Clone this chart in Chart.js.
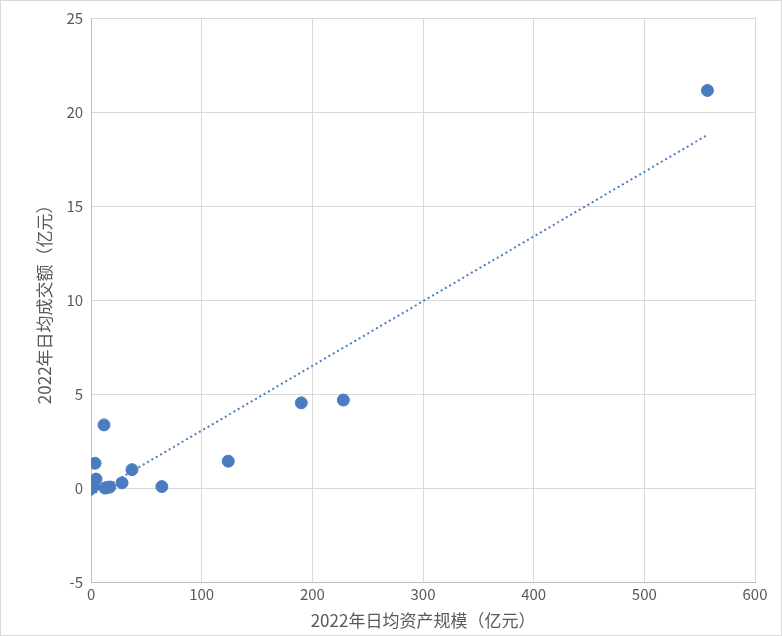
<!DOCTYPE html>
<html>
<head>
<meta charset="utf-8">
<script src="https://cdn.jsdelivr.net/npm/chart.js@4"></script>
<style>
body{margin:0;background:#fff;}
#wrap{position:absolute;left:0;top:0;width:780px;height:634px;border:1px solid #d9d9d9;}
</style>
</head>
<body>
<div id="wrap"><canvas id="myChart" width="780" height="634"></canvas></div>
<script>
// data
const assets = [11.7, 3.6, 4.5, 2, 0, 1, 14.5, 12.5, 17, 28, 37, 64, 124, 190, 228, 557];
const volume = [3.38, 1.34, 0.5, 0.1, 0.0, 0.05, 0.05, 0.02, 0.08, 0.3, 1.0, 0.1, 1.45, 4.55, 4.7, 21.15];

// linear trendline
function fit(xs, ys) {
	let n = xs.length, sx = 0, sy = 0, sxx = 0, sxy = 0;
	for (let i = 0; i < n; i++) { sx += xs[i]; sy += ys[i]; sxx += xs[i]*xs[i]; sxy += xs[i]*ys[i]; }
	let b = (n*sxy - sx*sy) / (n*sxx - sx*sx);
	return [b, (sy - b*sx) / n];
}
const [slope, icpt] = fit(assets, volume);
const xMax = Math.max(...assets);
const trend = [{x: 0, y: icpt}, {x: xMax, y: icpt + slope*xMax}];

const col = '#4a7dbf';
const txt = '#595959';
new Chart(document.getElementById('myChart'), {
	type: 'scatter',
	data: {
		datasets: [{
			data: assets.map((v, i) => ({x: v, y: volume[i]})),
			backgroundColor: col, borderColor: col, pointRadius: 6, pointHoverRadius: 6
		}, {
			type: 'line', data: trend, borderColor: col, borderWidth: 2,
			borderDash: [2, 3], pointRadius: 0, fill: false
		}]
	},
	options: {
		responsive: false, animation: false,
		layout: {padding: {left: 29, right: 26, top: 17, bottom: 0}},
		plugins: {legend: {display: false}, tooltip: {enabled: false}},
		scales: {
			x: {
				min: 0, max: 600,
				ticks: {stepSize: 100, color: txt, font: {size: 15, family: 'Noto Sans CJK SC'}},
				grid: {color: '#d9d9d9', drawTicks: false},
				border: {color: '#bfbfbf'},
				title: {display: true, text: '2022年日均资产规模（亿元）', color: txt, font: {size: 17, family: 'Noto Sans CJK SC'}}
			},
			y: {
				min: -5, max: 25,
				ticks: {stepSize: 5, color: txt, padding: 8, font: {size: 15, family: 'Noto Sans CJK SC'}},
				grid: {color: '#d9d9d9', drawTicks: false},
				border: {color: '#bfbfbf'},
				title: {display: true, text: '2022年日均成交额（亿元）', color: txt, font: {size: 17, family: 'Noto Sans CJK SC'}}
			}
		}
	}
});
</script>
</body>
</html>
